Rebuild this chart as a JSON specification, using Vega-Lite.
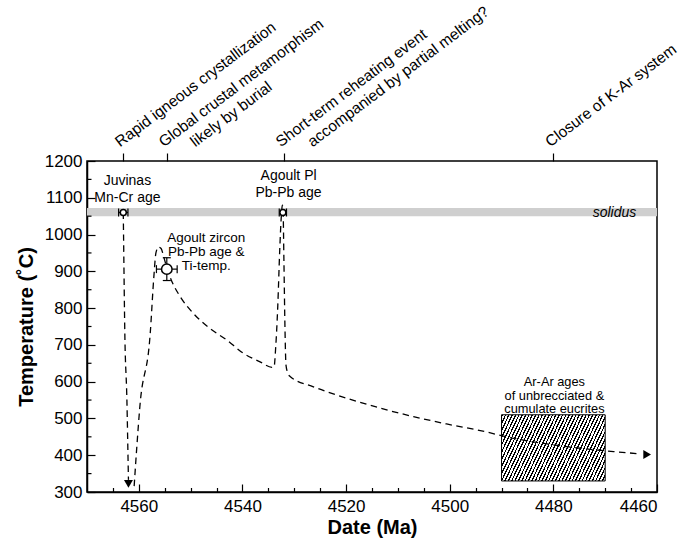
{
  "$schema": "https://vega.github.io/schema/vega-lite/v6.json",
  "width": 570,
  "height": 331,
  "autosize": {"type": "none"},
  "padding": {"left": 87, "top": 161, "right": 22, "bottom": 47},
  "background": "white",
  "config": {
    "font": "Liberation Sans",
    "view": {"stroke": "black", "strokeWidth": 1.5},
    "axis": {"domainColor": "black", "domainWidth": 1.5, "tickColor": "black", "tickWidth": 1.2, "labelColor": "black", "titleColor": "black", "labelFont": "Liberation Sans", "titleFont": "Liberation Sans", "labelFontSize": 17, "titleFontSize": 20, "titleFontWeight": "bold", "grid": false, "labelOverlap": false},
    "text": {"font": "Liberation Sans", "color": "black"}
  },
  "datasets": {
    "band": [{"lo": 1050, "hi": 1072}],
    "box": [{"date_start": 4490, "date_end": 4470, "temp_lo": 330, "temp_hi": 510}],
    "minor_y": [{"temp": 350}, {"temp": 450}, {"temp": 550}, {"temp": 650}, {"temp": 750}, {"temp": 850}, {"temp": 950}, {"temp": 1050}, {"temp": 1150}],
    "points": [
      {"name": "Juvinas", "date": 4563.0, "temp": 1060, "date_lo": 4563.9, "date_hi": 4562.1, "temp_lo": 1060, "temp_hi": 1060},
      {"name": "Agoult zircon", "date": 4554.6, "temp": 906, "date_lo": 4556.6, "date_hi": 4552.6, "temp_lo": 875, "temp_hi": 937},
      {"name": "Agoult Pl", "date": 4532.2, "temp": 1060, "date_lo": 4532.9, "date_hi": 4531.5, "temp_lo": 1060, "temp_hi": 1060}
    ],
    "path": [
      {"seg": "A", "date": 4563.0, "temp": 1060},
      {"seg": "A", "date": 4562.95, "temp": 1003},
      {"seg": "A", "date": 4562.7, "temp": 731},
      {"seg": "A", "date": 4562.3, "temp": 550},
      {"seg": "A", "date": 4562.05, "temp": 369},
      {"seg": "A", "date": 4562.0, "temp": 333},
      {"seg": "B", "date": 4560.9, "temp": 316},
      {"seg": "B", "date": 4560.4, "temp": 420},
      {"seg": "B", "date": 4559.8, "temp": 532},
      {"seg": "B", "date": 4557.8, "temp": 731},
      {"seg": "B", "date": 4557.1, "temp": 885},
      {"seg": "B", "date": 4556.7, "temp": 950},
      {"seg": "B", "date": 4556.2, "temp": 966},
      {"seg": "B", "date": 4555.7, "temp": 962},
      {"seg": "B", "date": 4555.2, "temp": 940},
      {"seg": "B", "date": 4554.6, "temp": 910},
      {"seg": "B", "date": 4553.6, "temp": 872},
      {"seg": "B", "date": 4552.0, "temp": 831},
      {"seg": "B", "date": 4549.5, "temp": 786},
      {"seg": "B", "date": 4546.3, "temp": 745},
      {"seg": "B", "date": 4543.0, "temp": 713},
      {"seg": "B", "date": 4539.8, "temp": 677},
      {"seg": "B", "date": 4536.6, "temp": 654},
      {"seg": "B", "date": 4534.3, "temp": 639},
      {"seg": "B", "date": 4533.9, "temp": 640},
      {"seg": "B", "date": 4533.6, "temp": 690},
      {"seg": "B", "date": 4533.2, "temp": 800},
      {"seg": "B", "date": 4532.8, "temp": 960},
      {"seg": "B", "date": 4532.5, "temp": 1050},
      {"seg": "B", "date": 4532.3, "temp": 1080},
      {"seg": "B", "date": 4532.15, "temp": 1060},
      {"seg": "B", "date": 4532.0, "temp": 931},
      {"seg": "B", "date": 4531.8, "temp": 750},
      {"seg": "B", "date": 4531.6, "temp": 645},
      {"seg": "B", "date": 4531.2, "temp": 622},
      {"seg": "B", "date": 4530.8, "temp": 614},
      {"seg": "B", "date": 4526.3, "temp": 586},
      {"seg": "B", "date": 4519.9, "temp": 555},
      {"seg": "B", "date": 4513.4, "temp": 528},
      {"seg": "B", "date": 4507.0, "temp": 505},
      {"seg": "B", "date": 4500.6, "temp": 485},
      {"seg": "B", "date": 4494.1, "temp": 467},
      {"seg": "B", "date": 4487.7, "temp": 446},
      {"seg": "B", "date": 4481.3, "temp": 431},
      {"seg": "B", "date": 4474.8, "temp": 419},
      {"seg": "B", "date": 4468.4, "temp": 410},
      {"seg": "B", "date": 4463.5, "temp": 404}
    ],
    "arrows": [
      {"dir": "down", "date": 4562.0, "temp": 322},
      {"dir": "right", "date": 4461.9, "temp": 402}
    ],
    "notes": [
      {"name": "Juvinas", "date": 4562.2, "temp": 1134.7, "text": ["Juvinas", "Mn-Cr age"]},
      {"name": "Agoult Pl", "date": 4531.1, "temp": 1148.3, "text": ["Agoult Pl", "Pb-Pb age"]},
      {"name": "Agoult zircon", "date": 4547.0, "temp": 980.6, "text": ["Agoult zircon", "Pb-Pb age &", "Ti-temp."]},
      {"name": "Ar-Ar", "date": 4479.8, "temp": 588, "text": ["Ar-Ar ages", "of unbrecciated &", "cumulate eucrites"]},
      {"name": "solidus", "date": 4464.0, "temp": 1049, "text": "solidus"}
    ],
    "events": [
      {"date": 4563, "line": 1, "text": "Rapid igneous crystallization"},
      {"date": 4554.6, "line": 1, "text": "Global crustal metamorphism"},
      {"date": 4554.6, "line": 2, "text": "likely by burial"},
      {"date": 4532, "line": 1, "text": "Short-term reheating event"},
      {"date": 4532, "line": 2, "text": "accompanied by partial melting?"},
      {"date": 4480, "line": 1, "text": "Closure of K-Ar system"}
    ]
  },
  "resolve": {"axis": {"x": "independent", "y": "independent"}},
  "layer": [
    {
      "data": {"name": "band"},
      "mark": {"type": "rect", "color": "#cfcfcf"},
      "encoding": {
        "x": {"datum": 4570, "type": "quantitative", "scale": {"domain": [4460, 4570], "reverse": true, "nice": false, "zero": false}, "axis": null},
        "x2": {"datum": 4460},
        "y": {"field": "lo", "type": "quantitative", "scale": {"domain": [300, 1200], "nice": false, "zero": false},
          "axis": {"orient": "left", "values": [300, 400, 500, 600, 700, 800, 900, 1000, 1100, 1200], "format": "d", "labelOverlap": false, "labelBound": false, "tickSize": -8, "labelPadding": 13, "title": "Temperature (˚C)", "titlePadding": 8}},
        "y2": {"field": "hi"}
      }
    },
    {
      "data": {"name": "minor_y"},
      "mark": {"type": "tick", "orient": "horizontal", "color": "black", "opacity": 1, "size": 4.5, "thickness": 1.2, "xOffset": 2.25},
      "encoding": {
        "x": {"datum": 4570, "type": "quantitative", "scale": {"domain": [4460, 4570], "reverse": true, "nice": false, "zero": false}, "axis": null},
        "y": {"field": "temp", "type": "quantitative", "scale": {"domain": [300, 1200], "nice": false, "zero": false}, "axis": null}
      }
    },
    {
      "data": {"name": "box"},
      "mark": {"type": "rect", "stroke": "black", "strokeWidth": 1, "fill": {"gradient": "linear", "x1": 0, "y1": 0, "x2": 1.19, "y2": 0.354, "stops": [
        {"offset": 0, "color": "#000"}, {"offset": 0.01, "color": "#000"}, {"offset": 0.01, "color": "#fff"}, {"offset": 0.025, "color": "#fff"},
        {"offset": 0.025, "color": "#000"}, {"offset": 0.035, "color": "#000"}, {"offset": 0.035, "color": "#fff"}, {"offset": 0.05, "color": "#fff"},
        {"offset": 0.05, "color": "#000"}, {"offset": 0.06, "color": "#000"}, {"offset": 0.06, "color": "#fff"}, {"offset": 0.075, "color": "#fff"},
        {"offset": 0.075, "color": "#000"}, {"offset": 0.085, "color": "#000"}, {"offset": 0.085, "color": "#fff"}, {"offset": 0.1, "color": "#fff"},
        {"offset": 0.1, "color": "#000"}, {"offset": 0.11, "color": "#000"}, {"offset": 0.11, "color": "#fff"}, {"offset": 0.125, "color": "#fff"},
        {"offset": 0.125, "color": "#000"}, {"offset": 0.135, "color": "#000"}, {"offset": 0.135, "color": "#fff"}, {"offset": 0.15, "color": "#fff"},
        {"offset": 0.15, "color": "#000"}, {"offset": 0.16, "color": "#000"}, {"offset": 0.16, "color": "#fff"}, {"offset": 0.175, "color": "#fff"},
        {"offset": 0.175, "color": "#000"}, {"offset": 0.185, "color": "#000"}, {"offset": 0.185, "color": "#fff"}, {"offset": 0.2, "color": "#fff"},
        {"offset": 0.2, "color": "#000"}, {"offset": 0.21, "color": "#000"}, {"offset": 0.21, "color": "#fff"}, {"offset": 0.225, "color": "#fff"},
        {"offset": 0.225, "color": "#000"}, {"offset": 0.235, "color": "#000"}, {"offset": 0.235, "color": "#fff"}, {"offset": 0.25, "color": "#fff"},
        {"offset": 0.25, "color": "#000"}, {"offset": 0.26, "color": "#000"}, {"offset": 0.26, "color": "#fff"}, {"offset": 0.275, "color": "#fff"},
        {"offset": 0.275, "color": "#000"}, {"offset": 0.285, "color": "#000"}, {"offset": 0.285, "color": "#fff"}, {"offset": 0.3, "color": "#fff"},
        {"offset": 0.3, "color": "#000"}, {"offset": 0.31, "color": "#000"}, {"offset": 0.31, "color": "#fff"}, {"offset": 0.325, "color": "#fff"},
        {"offset": 0.325, "color": "#000"}, {"offset": 0.335, "color": "#000"}, {"offset": 0.335, "color": "#fff"}, {"offset": 0.35, "color": "#fff"},
        {"offset": 0.35, "color": "#000"}, {"offset": 0.36, "color": "#000"}, {"offset": 0.36, "color": "#fff"}, {"offset": 0.375, "color": "#fff"},
        {"offset": 0.375, "color": "#000"}, {"offset": 0.385, "color": "#000"}, {"offset": 0.385, "color": "#fff"}, {"offset": 0.4, "color": "#fff"},
        {"offset": 0.4, "color": "#000"}, {"offset": 0.41, "color": "#000"}, {"offset": 0.41, "color": "#fff"}, {"offset": 0.425, "color": "#fff"},
        {"offset": 0.425, "color": "#000"}, {"offset": 0.435, "color": "#000"}, {"offset": 0.435, "color": "#fff"}, {"offset": 0.45, "color": "#fff"},
        {"offset": 0.45, "color": "#000"}, {"offset": 0.46, "color": "#000"}, {"offset": 0.46, "color": "#fff"}, {"offset": 0.475, "color": "#fff"},
        {"offset": 0.475, "color": "#000"}, {"offset": 0.485, "color": "#000"}, {"offset": 0.485, "color": "#fff"}, {"offset": 0.5, "color": "#fff"},
        {"offset": 0.5, "color": "#000"}, {"offset": 0.51, "color": "#000"}, {"offset": 0.51, "color": "#fff"}, {"offset": 0.525, "color": "#fff"},
        {"offset": 0.525, "color": "#000"}, {"offset": 0.535, "color": "#000"}, {"offset": 0.535, "color": "#fff"}, {"offset": 0.55, "color": "#fff"},
        {"offset": 0.55, "color": "#000"}, {"offset": 0.56, "color": "#000"}, {"offset": 0.56, "color": "#fff"}, {"offset": 0.575, "color": "#fff"},
        {"offset": 0.575, "color": "#000"}, {"offset": 0.585, "color": "#000"}, {"offset": 0.585, "color": "#fff"}, {"offset": 0.6, "color": "#fff"},
        {"offset": 0.6, "color": "#000"}, {"offset": 0.61, "color": "#000"}, {"offset": 0.61, "color": "#fff"}, {"offset": 0.625, "color": "#fff"},
        {"offset": 0.625, "color": "#000"}, {"offset": 0.635, "color": "#000"}, {"offset": 0.635, "color": "#fff"}, {"offset": 0.65, "color": "#fff"},
        {"offset": 0.65, "color": "#000"}, {"offset": 0.66, "color": "#000"}, {"offset": 0.66, "color": "#fff"}, {"offset": 0.675, "color": "#fff"},
        {"offset": 0.675, "color": "#000"}, {"offset": 0.685, "color": "#000"}, {"offset": 0.685, "color": "#fff"}, {"offset": 0.7, "color": "#fff"},
        {"offset": 0.7, "color": "#000"}, {"offset": 0.71, "color": "#000"}, {"offset": 0.71, "color": "#fff"}, {"offset": 0.725, "color": "#fff"},
        {"offset": 0.725, "color": "#000"}, {"offset": 0.735, "color": "#000"}, {"offset": 0.735, "color": "#fff"}, {"offset": 0.75, "color": "#fff"},
        {"offset": 0.75, "color": "#000"}, {"offset": 0.76, "color": "#000"}, {"offset": 0.76, "color": "#fff"}, {"offset": 0.775, "color": "#fff"},
        {"offset": 0.775, "color": "#000"}, {"offset": 0.785, "color": "#000"}, {"offset": 0.785, "color": "#fff"}, {"offset": 0.8, "color": "#fff"},
        {"offset": 0.8, "color": "#000"}, {"offset": 0.81, "color": "#000"}, {"offset": 0.81, "color": "#fff"}, {"offset": 0.825, "color": "#fff"},
        {"offset": 0.825, "color": "#000"}, {"offset": 0.835, "color": "#000"}, {"offset": 0.835, "color": "#fff"}, {"offset": 0.85, "color": "#fff"},
        {"offset": 0.85, "color": "#000"}, {"offset": 0.86, "color": "#000"}, {"offset": 0.86, "color": "#fff"}, {"offset": 0.875, "color": "#fff"},
        {"offset": 0.875, "color": "#000"}, {"offset": 0.885, "color": "#000"}, {"offset": 0.885, "color": "#fff"}, {"offset": 0.9, "color": "#fff"},
        {"offset": 0.9, "color": "#000"}, {"offset": 0.91, "color": "#000"}, {"offset": 0.91, "color": "#fff"}, {"offset": 0.925, "color": "#fff"},
        {"offset": 0.925, "color": "#000"}, {"offset": 0.935, "color": "#000"}, {"offset": 0.935, "color": "#fff"}, {"offset": 0.95, "color": "#fff"},
        {"offset": 0.95, "color": "#000"}, {"offset": 0.96, "color": "#000"}, {"offset": 0.96, "color": "#fff"}, {"offset": 0.975, "color": "#fff"},
        {"offset": 0.975, "color": "#000"}, {"offset": 0.985, "color": "#000"}, {"offset": 0.985, "color": "#fff"}, {"offset": 1, "color": "#fff"}
      ]}},
      "encoding": {
        "x": {"field": "date_start", "type": "quantitative", "scale": {"domain": [4460, 4570], "reverse": true, "nice": false, "zero": false}, "axis": null},
        "x2": {"field": "date_end"},
        "y": {"field": "temp_lo", "type": "quantitative", "scale": {"domain": [300, 1200], "nice": false, "zero": false}, "axis": null},
        "y2": {"field": "temp_hi"}
      }
    },
    {
      "data": {"name": "path"},
      "mark": {"type": "line", "color": "black", "strokeWidth": 1.3, "strokeDash": [6.5, 4.5], "interpolate": "monotone"},
      "encoding": {
        "x": {"field": "date", "type": "quantitative", "scale": {"domain": [4460, 4570], "reverse": true, "nice": false, "zero": false}, "axis": null},
        "y": {"field": "temp", "type": "quantitative", "scale": {"domain": [300, 1200], "nice": false, "zero": false}, "axis": null},
        "detail": {"field": "seg"},
        "order": {"field": "date", "sort": "descending"}
      }
    },
    {
      "data": {"name": "arrows"},
      "mark": {"type": "point", "filled": true, "color": "black", "opacity": 1, "size": 80},
      "encoding": {
        "x": {"field": "date", "type": "quantitative", "scale": {"domain": [4460, 4570], "reverse": true, "nice": false, "zero": false}, "axis": null},
        "y": {"field": "temp", "type": "quantitative", "scale": {"domain": [300, 1200], "nice": false, "zero": false}, "axis": null},
        "shape": {"field": "dir", "type": "nominal", "scale": {"domain": ["down", "right"], "range": ["triangle-down", "triangle-right"]}, "legend": null}
      }
    },
    {
      "data": {"name": "points"},
      "mark": {"type": "rule", "color": "black", "strokeWidth": 1.2},
      "encoding": {
        "x": {"field": "date_lo", "type": "quantitative", "scale": {"domain": [4460, 4570], "reverse": true, "nice": false, "zero": false}, "axis": null},
        "x2": {"field": "date_hi"},
        "y": {"field": "temp", "type": "quantitative", "scale": {"domain": [300, 1200], "nice": false, "zero": false}, "axis": null}
      }
    },
    {
      "data": {"name": "points"},
      "transform": [{"filter": "datum.name === 'Agoult zircon'"}],
      "mark": {"type": "rule", "color": "black", "strokeWidth": 1.2},
      "encoding": {
        "x": {"field": "date", "type": "quantitative", "scale": {"domain": [4460, 4570], "reverse": true, "nice": false, "zero": false}, "axis": null},
        "y": {"field": "temp_lo", "type": "quantitative", "scale": {"domain": [300, 1200], "nice": false, "zero": false}, "axis": null},
        "y2": {"field": "temp_hi"}
      }
    },
    {
      "data": {"name": "points"},
      "mark": {"type": "tick", "orient": "vertical", "color": "black", "opacity": 1, "size": 8, "thickness": 1.2},
      "encoding": {
        "x": {"field": "date_lo", "type": "quantitative", "scale": {"domain": [4460, 4570], "reverse": true, "nice": false, "zero": false}, "axis": null},
        "y": {"field": "temp", "type": "quantitative", "scale": {"domain": [300, 1200], "nice": false, "zero": false}, "axis": null}
      }
    },
    {
      "data": {"name": "points"},
      "mark": {"type": "tick", "orient": "vertical", "color": "black", "opacity": 1, "size": 8, "thickness": 1.2},
      "encoding": {
        "x": {"field": "date_hi", "type": "quantitative", "scale": {"domain": [4460, 4570], "reverse": true, "nice": false, "zero": false}, "axis": null},
        "y": {"field": "temp", "type": "quantitative", "scale": {"domain": [300, 1200], "nice": false, "zero": false}, "axis": null}
      }
    },
    {
      "data": {"name": "points"},
      "transform": [{"filter": "datum.name === 'Agoult zircon'"}],
      "mark": {"type": "tick", "orient": "horizontal", "color": "black", "opacity": 1, "size": 8, "thickness": 1.2},
      "encoding": {
        "x": {"field": "date", "type": "quantitative", "scale": {"domain": [4460, 4570], "reverse": true, "nice": false, "zero": false}, "axis": null},
        "y": {"field": "temp_lo", "type": "quantitative", "scale": {"domain": [300, 1200], "nice": false, "zero": false}, "axis": null}
      }
    },
    {
      "data": {"name": "points"},
      "transform": [{"filter": "datum.name === 'Agoult zircon'"}],
      "mark": {"type": "tick", "orient": "horizontal", "color": "black", "opacity": 1, "size": 8, "thickness": 1.2},
      "encoding": {
        "x": {"field": "date", "type": "quantitative", "scale": {"domain": [4460, 4570], "reverse": true, "nice": false, "zero": false}, "axis": null},
        "y": {"field": "temp_hi", "type": "quantitative", "scale": {"domain": [300, 1200], "nice": false, "zero": false}, "axis": null}
      }
    },
    {
      "data": {"name": "points"},
      "mark": {"type": "point", "shape": "circle", "filled": true, "fill": "white", "stroke": "black", "strokeWidth": 1.5, "opacity": 1},
      "encoding": {
        "x": {"field": "date", "type": "quantitative", "scale": {"domain": [4460, 4570], "reverse": true, "nice": false, "zero": false},
          "axis": {"orient": "bottom", "values": [4565, 4560, 4555, 4550, 4545, 4540, 4535, 4530, 4525, 4520, 4515, 4510, 4505, 4500, 4495, 4490, 4485, 4480, 4475, 4470, 4465, 4460], "format": "d", "labelOverlap": false, "labelBound": false, "labelExpr": "datum.value % 20 === 0 ? datum.label : ''", "tickSize": {"condition": {"test": "datum.value % 20 === 0", "value": -8}, "value": -4.5}, "labelPadding": 14.8, "title": "Date (Ma)", "titlePadding": -1}},
        "y": {"field": "temp", "type": "quantitative", "scale": {"domain": [300, 1200], "nice": false, "zero": false}, "axis": null},
        "size": {"condition": {"test": "datum.name === 'Agoult zircon'", "value": 110}, "value": 36}
      }
    },
    {
      "data": {"name": "notes"},
      "transform": [{"filter": "datum.name === 'Juvinas' || datum.name === 'Agoult Pl'"}],
      "mark": {"type": "text", "align": "center", "baseline": "alphabetic", "fontSize": 14, "lineHeight": 16.8},
      "encoding": {
        "x": {"field": "date", "type": "quantitative", "scale": {"domain": [4460, 4570], "reverse": true, "nice": false, "zero": false}, "axis": null},
        "y": {"field": "temp", "type": "quantitative", "scale": {"domain": [300, 1200], "nice": false, "zero": false}, "axis": null},
        "text": {"field": "text"}
      }
    },
    {
      "data": {"name": "notes"},
      "transform": [{"filter": "datum.name === 'Agoult zircon'"}],
      "mark": {"type": "text", "align": "center", "baseline": "alphabetic", "fontSize": 13.5, "lineHeight": 14.4},
      "encoding": {
        "x": {"field": "date", "type": "quantitative", "scale": {"domain": [4460, 4570], "reverse": true, "nice": false, "zero": false}, "axis": null},
        "y": {"field": "temp", "type": "quantitative", "scale": {"domain": [300, 1200], "nice": false, "zero": false}, "axis": null},
        "text": {"field": "text"}
      }
    },
    {
      "data": {"name": "notes"},
      "transform": [{"filter": "datum.name === 'Ar-Ar'"}],
      "mark": {"type": "text", "align": "center", "baseline": "alphabetic", "fontSize": 12.8, "lineHeight": 13.5},
      "encoding": {
        "x": {"field": "date", "type": "quantitative", "scale": {"domain": [4460, 4570], "reverse": true, "nice": false, "zero": false}, "axis": null},
        "y": {"field": "temp", "type": "quantitative", "scale": {"domain": [300, 1200], "nice": false, "zero": false}, "axis": null},
        "text": {"field": "text"}
      }
    },
    {
      "data": {"name": "notes"},
      "transform": [{"filter": "datum.name === 'solidus'"}],
      "mark": {"type": "text", "align": "right", "baseline": "alphabetic", "fontSize": 14, "fontStyle": "italic"},
      "encoding": {
        "x": {"field": "date", "type": "quantitative", "scale": {"domain": [4460, 4570], "reverse": true, "nice": false, "zero": false}, "axis": null},
        "y": {"field": "temp", "type": "quantitative", "scale": {"domain": [300, 1200], "nice": false, "zero": false}, "axis": null},
        "text": {"field": "text"}
      }
    },
    {
      "data": {"name": "events"},
      "transform": [{"filter": "datum.line === 1"}],
      "mark": {"type": "text", "align": "left", "baseline": "alphabetic", "angle": -37, "dx": 5.6, "dy": -12.7, "fontSize": 15.5},
      "encoding": {
        "x": {"field": "date", "type": "quantitative", "scale": {"domain": [4460, 4570], "reverse": true, "nice": false, "zero": false},
          "axis": {"orient": "top", "values": [4563, 4554.6, 4532, 4480], "labels": false, "tickSize": 8, "domain": false, "title": null}},
        "y": {"datum": 1200, "type": "quantitative", "scale": {"domain": [300, 1200], "nice": false, "zero": false}, "axis": null},
        "text": {"field": "text"}
      }
    },
    {
      "data": {"name": "events"},
      "transform": [{"filter": "datum.line === 2"}],
      "mark": {"type": "text", "align": "left", "baseline": "alphabetic", "angle": -37, "dx": 30.9, "dy": 6.4, "fontSize": 15.5},
      "encoding": {
        "x": {"field": "date", "type": "quantitative", "scale": {"domain": [4460, 4570], "reverse": true, "nice": false, "zero": false}, "axis": null},
        "y": {"datum": 1200, "type": "quantitative", "scale": {"domain": [300, 1200], "nice": false, "zero": false}, "axis": null},
        "text": {"field": "text"}
      }
    }
  ]
}
